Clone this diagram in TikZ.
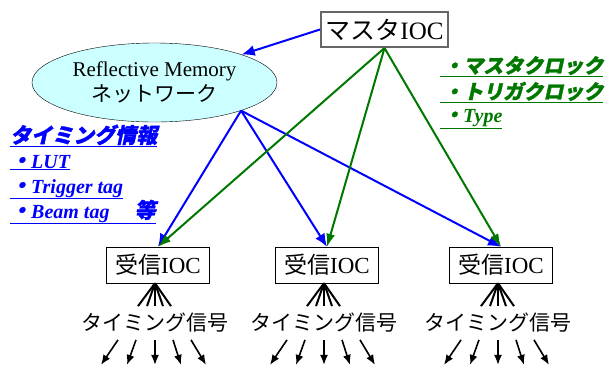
\documentclass[tikz,border=0pt]{standalone}
\usepackage{fontspec}
\setmainfont{Liberation Serif}
\newfontfamily\jp{Noto Sans CJK JP}
\newfontfamily\jpbi[FakeSlant=0.22,FakeBold=1.5]{Noto Sans CJK JP}
\usetikzlibrary{shapes.geometric}
\usetikzlibrary{arrows.meta}
\definecolor{netcyan}{RGB}{204,255,255}
\definecolor{clkgreen}{RGB}{0,120,0}

\tikzset{
  ioc/.style={draw,rectangle,minimum width=103pt,minimum height=36pt,inner sep=0pt,font=\fontsize{23}{26}\selectfont},
  sig/.style={inner xsep=0pt,inner ysep=7pt,font=\jp\fontsize{21}{24}\selectfont},
  bluearr/.style={blue,line width=2pt,-{Latex[length=13pt,width=11pt]}},
  greenarr/.style={clkgreen,line width=2pt,-{Latex[length=13pt,width=9pt]}},
  fanline/.style={line width=2pt},
  sigarr/.style={line width=1.6pt,-{Latex[length=10pt,width=8pt]}},
  memo/.style={anchor=base west,inner sep=0pt,font=\bfseries\itshape\fontsize{20}{24}\selectfont},
}

\begin{document}
\begin{tikzpicture}[x=1pt,y=-1pt]
\useasboundingbox (0,0) rectangle (615,368);

\node [draw=black!60,line width=2pt,minimum width=127pt,minimum height=35pt,inner sep=0pt,font=\fontsize{25}{28}\selectfont] (master) at (384.5,29.5) {{\jp マスタ}IOC};
\node [ellipse,draw,fill=netcyan,minimum width=245pt,minimum height=79pt,inner sep=0pt,align=center,font=\fontsize{21}{25}\selectfont] (rm) at (154.5,82.5) {Reflective Memory\\{\jp ネットワーク}};
\coordinate (hub) at (rm.-18);

% receivers
\foreach \n/\x in {1/158,2/327,3/501}{
  \node [ioc] (r\n) at (\x,265) {{\jp 受信}IOC};
  \node [sig] (s\n) at (\x-3,323) {タイミング信号};
  \coordinate (a\n) at ([xshift=-3pt]r\n.south);
  \foreach \d in {-17,-8,0,8,16}
    \draw [fanline] (a\n) -- ([xshift=\d pt]s\n.north);
  \foreach \p/\q in {-37/-54,-19/-28,0/0,18/26,36/51}
    \draw [sigarr] ([xshift=\p pt]s\n.south) -- ([shift={(\q,25)}]s\n.south);
}

\draw [bluearr] (master.west) -- (rm);
\foreach \n in {1,2,3} \draw [bluearr] (hub) -- (r\n.north);
\foreach \n in {1,2,3} \draw [greenarr] (master.south) -- (r\n.north);

% clock info
\node [memo,text=clkgreen] (g1) at (440,73) {\underline{\kern3pt{\jpbi\fontsize{20}{24}\selectfont ・マスタクロック}}};
\node [memo,text=clkgreen] (g2) at (440,99) {\underline{\kern3pt{\jpbi\fontsize{20}{24}\selectfont ・トリガクロック}}};
\node [memo,text=clkgreen] (g3) at (440,122) {\underline{\kern3pt{\jpbi\fontsize{20}{24}\selectfont ・}Type}};

% timing info
\node [memo,text=blue] (t0) at (10,143) {\underline{\jpbi\fontsize{21}{24}\selectfont タイミング情報}};
\node [memo,text=blue] (t1) at (10,168) {\underline{{\jpbi\fontsize{21}{24}\selectfont ・}LUT}};
\node [memo,text=blue] (t2) at (10,193) {\underline{{\jpbi\fontsize{21}{24}\selectfont ・}Trigger tag}};
\node [memo,text=blue] (t3) at (10,218) {\underline{{\jpbi\fontsize{21}{24}\selectfont ・}Beam tag\quad\ {\jpbi\fontsize{21}{24}\selectfont 等}}};
\end{tikzpicture}
\end{document}
